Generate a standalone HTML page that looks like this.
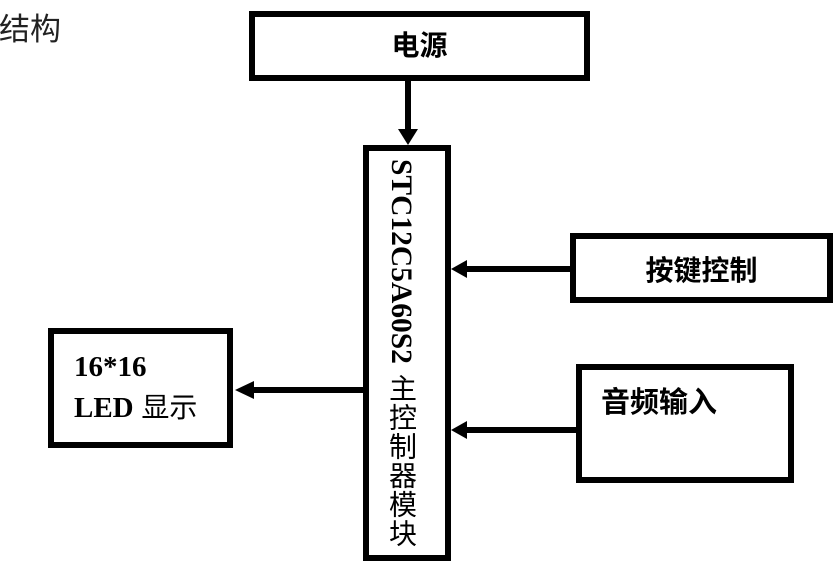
<!DOCTYPE html>
<html>
<head>
<meta charset="utf-8">
<style>
  html, body { margin:0; padding:0; background:#fff; }
  body { width:839px; height:570px; position:relative; overflow:hidden; }
  .t { position:absolute; line-height:1; white-space:nowrap; color:#000; }
  .cjkb { font-family:"Liberation Sans","Noto Sans CJK SC",sans-serif; font-weight:bold; font-size:28px; }
  .vert { position:absolute; writing-mode:vertical-rl; line-height:30px; width:30px; white-space:nowrap; color:#000; }
</style>
</head>
<body>
<svg width="839" height="570" style="position:absolute;left:0;top:0" xmlns="http://www.w3.org/2000/svg">
  <g fill="none" stroke="#000" stroke-width="6">
    <rect x="252" y="14" width="335" height="64"/>
    <rect x="366" y="148" width="82" height="410"/>
    <rect x="573" y="236" width="257" height="64"/>
    <rect x="579" y="367" width="212" height="113"/>
    <rect x="51" y="331" width="179" height="114"/>
  </g>
  <g stroke="#000" stroke-width="6">
    <line x1="408" y1="80" x2="408" y2="131"/>
    <line x1="571" y1="269" x2="465" y2="269"/>
    <line x1="577" y1="430" x2="465" y2="430"/>
    <line x1="364" y1="390" x2="252" y2="390"/>
  </g>
  <g fill="#000">
    <polygon points="398,129 418,129 408,145"/>
    <polygon points="451,269 467,260 467,278"/>
    <polygon points="451,430 467,421 467,439"/>
    <polygon points="235,390 254,381 254,399"/>
  </g>
</svg>

<div class="t" style="left:-1px;top:14px;font-family:'Liberation Sans','Noto Sans CJK SC',sans-serif;font-size:31px;color:#222;">结构</div>

<div class="t cjkb" style="left:249px;width:341px;text-align:center;top:32px;">电源</div>
<div class="t cjkb" style="left:570px;width:263px;text-align:center;top:257px;">按键控制</div>
<div class="t cjkb" style="left:601px;top:389px;font-size:29px;">音频输入</div>

<div class="t" style="left:74px;top:353px;font-family:'Liberation Serif',serif;font-weight:bold;font-size:29px;">16*16</div>
<div class="t" style="left:74px;top:394px;font-size:29px;"><span style="font-family:'Liberation Serif',serif;font-weight:bold;">LED</span><span style="font-family:'Liberation Sans','Noto Sans CJK SC',sans-serif;font-size:28px;"> 显示</span></div>

<div class="vert" style="left:386px;top:159px;font-family:'Liberation Serif',serif;font-weight:bold;font-size:29.5px;">STC12C5A60S2</div>
<div class="vert" style="left:386px;top:374px;font-family:'Liberation Sans','Noto Sans CJK SC',sans-serif;font-size:28px;letter-spacing:1px;">主控制器模块</div>
</body>
</html>
